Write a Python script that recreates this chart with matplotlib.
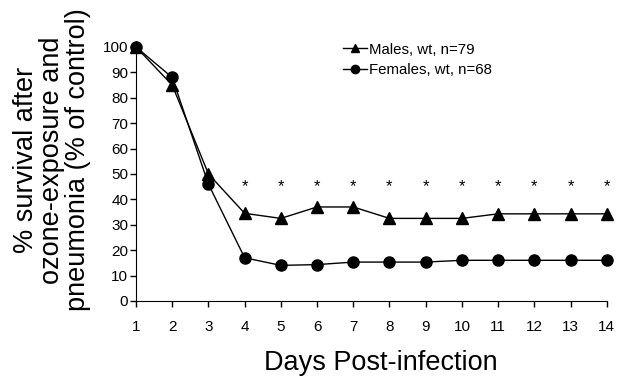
import matplotlib
matplotlib.use("Agg")
import matplotlib.pyplot as plt

plt.rcParams['font.family'] = ['Liberation Sans', 'DejaVu Sans']

days = list(range(1, 15))
males = [100, 85, 50, 34.5, 32.5, 37, 37, 32.5, 32.5, 32.5, 34.3, 34.3, 34.3, 34.3]
females = [100, 88, 46, 17, 14, 14.3, 15.3, 15.3, 15.3, 16, 16, 16, 16, 16]
star_days = list(range(4, 15))
star_level = 45
yticks = list(range(0, 101, 10))

fig = plt.figure(figsize=(6.4, 3.79), dpi=100)
ax = fig.add_axes([0.2125, 0.206, 0.7355, 0.670])

ax.plot(days, males, color='black', marker='^', markersize=8, linewidth=1,
        label='Males, wt, n=79', clip_on=False, zorder=3)
ax.plot(days, females, color='black', marker='o', markersize=8, linewidth=1,
        label='Females, wt, n=68', clip_on=False, zorder=3)
for d in star_days:
    ax.text(d, star_level, '*', ha='center', va='center', fontsize=12)

ax.set_xlim(1, 14)
ax.set_ylim(0, 100)
ax.set_xticks(days)
ax.set_yticks(yticks)
ax.tick_params(labelsize=11, direction='out', length=4, width=1)
ax.tick_params(axis='x', pad=10)
ax.tick_params(axis='y', pad=1.5)
for s in ['top', 'right']:
    ax.spines[s].set_visible(False)

fig.text(52 / 640, 1 - 160 / 379,
         '% survival after\nozone-exposure and\npneumonia (% of control)',
         rotation=90, ha='center', va='center', multialignment='center',
         fontsize=19.5, linespacing=1.0)
fig.text(381 / 640, 1 - 363 / 379, 'Days Post-infection',
         ha='center', va='center', fontsize=19.5)

ax.legend(loc='center left', bbox_to_anchor=(343 / 640, 1 - 60 / 379),
          bbox_transform=fig.transFigure, frameon=False,
          fontsize=10.8, handlelength=1.6, handletextpad=0.15, labelspacing=0.45,
          borderaxespad=0, borderpad=0, markerscale=0.75)

fig.savefig('out.png', dpi=100)
